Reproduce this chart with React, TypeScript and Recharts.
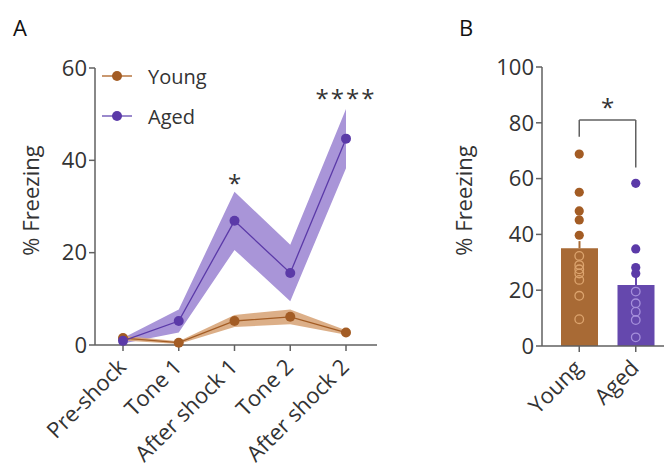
import React from 'react';
import {
  ComposedChart, Line, Area, XAxis, YAxis, Bar, Scatter, ErrorBar,
  ReferenceLine, ReferenceDot, Legend, Label,
} from 'recharts';

// ---------- Panel A data ----------
const phases = ['Pre-shock', 'Tone 1', 'After shock 1', 'Tone 2', 'After shock 2'];
const youngMean = [1.5, 0.5, 5.2, 6.1, 2.7];
const youngSem = [0.5, 0.3, 1.3, 1.6, 0.5];
const agedMean = [0.9, 5.2, 26.9, 15.6, 44.7];
const agedSem = [0.6, 2.5, 6.3, 6.1, 6.4];
const yTicksA = [0, 20, 40, 60];
const sigA = [
  { phase: 'After shock 1', y: 36, text: '*' },
  { phase: 'After shock 2', y: 54.3, text: '****' },
];

// ---------- Panel B data ----------
const groups = ['Young', 'Aged'];
const barMeans = [35.0, 21.9];
const barSems = [2.6, 3.3];
const youngPoints = [68.8, 55.1, 48.4, 45.2, 39.7, 32.3, 29.0, 27.5, 26.0, 23.7, 18.0, 9.6];
const agedPoints = [58.3, 34.8, 28.1, 26.0, 19.5, 15.3, 12.3, 9.3, 3.1];
const yTicksB = [0, 20, 40, 60, 80, 100];
const bracket = { top: 81, leftEnd: 75, rightEnd: 64, text: '*' };

// ---------- styles ----------
const FONT = '"Open Sans", sans-serif';
const TEXT = '#333333';
const AXIS = '#616161';
const YOUNG = '#a35c24';
const YOUNG_BAND = '#d8a67b';
const YOUNG_LEG = '#c99870';
const AGED = '#5b3aa8';
const AGED_BAND = '#a995d8';
const AGED_LEG = '#9a89cc';
const YOUNG_BAR = '#a86a35';
const AGED_BAR = '#6548ad';
const YOUNG_RING = '#dca46e';
const AGED_RING = '#a58fdb';

const dataA = phases.map((p, i) => ({
  phase: p,
  young: youngMean[i],
  aged: agedMean[i],
  youngBand: [youngMean[i] - youngSem[i], youngMean[i] + youngSem[i]],
  agedBand: [agedMean[i] - agedSem[i], agedMean[i] + agedSem[i]],
}));

const dataB = groups.map((g, i) => ({
  group: g,
  youngBar: i === 0 ? barMeans[i] : null,
  agedBar: i === 1 ? barMeans[i] : null,
  youngErr: i === 0 ? [0, barSems[i]] : null,
  agedErr: i === 1 ? [0, barSems[i]] : null,
}));
const youngPts = youngPoints.map((v) => ({ group: 'Young', v }));
const agedPts = agedPoints.map((v) => ({ group: 'Aged', v }));

const legendItems = [
  { name: 'Young', color: YOUNG, line: YOUNG_LEG },
  { name: 'Aged', color: AGED, line: AGED_LEG },
];

const RotTick = (props: any) => {
  const { x, y, payload } = props;
  return (
    <g transform={`translate(${x - 1},${y + 10})`}>
      <text
        x={0}
        y={0}
        dy="0.35em"
        textAnchor="end"
        transform="rotate(-45)"
        fill={TEXT}
        fontSize={22}
        fontFamily={FONT}
      >
        {payload.value}
      </text>
    </g>
  );
};

const LegendA = () => (
  <div style={{ fontFamily: FONT, fontSize: 20, color: TEXT }}>
    {legendItems.map((s) => (
      <div key={s.name} style={{ display: 'flex', alignItems: 'center', height: 40 }}>
        <svg width={46} height={14} style={{ display: 'block' }}>
          <line x1={0} y1={7} x2={30} y2={7} stroke={s.line} strokeWidth={2} />
          <circle cx={15} cy={7} r={5} fill={s.color} />
        </svg>
        <span>{s.name}</span>
      </div>
    ))}
  </div>
);

const YLabel = (dx: number) => (props: any) => {
  const { viewBox } = props;
  const cx = viewBox.x + dx;
  const cy = viewBox.y + viewBox.height / 2 - 6;
  return (
    <text
      x={cx}
      y={cy}
      transform={`rotate(-90, ${cx}, ${cy})`}
      textAnchor="middle"
      dominantBaseline="central"
      fill={TEXT}
      fontSize={22}
      fontFamily={FONT}
    >
      % Freezing
    </text>
  );
};

const StarLabel = (text: string, dy: number) => (props: any) => {
  const { viewBox } = props;
  const x = viewBox.x + (viewBox.width || 0) / 2;
  const y = viewBox.y + (viewBox.height || 0) / 2;
  return (
    <text
      x={x}
      y={y + dy}
      textAnchor="middle"
      fill={TEXT}
      fontSize={24}
      fontFamily={FONT}
      letterSpacing={text.length > 1 ? 2 : 0}
    >
      {text}
    </text>
  );
};

const PointShape = (mean: number, color: string, ring: string) => (props: any) => {
  const { cx, cy, payload } = props;
  if (cx == null || cy == null) return null;
  const filled = payload.v > mean;
  return filled ? (
    <circle cx={cx} cy={cy} r={4.6} fill={color} />
  ) : (
    <circle cx={cx} cy={cy} r={4.3} fill="none" stroke={ring} strokeWidth={1.3} />
  );
};

const tickStyle = { fill: TEXT, fontSize: 22, fontFamily: FONT };

export default function App() {
  return (
    <div style={{ position: 'absolute', left: 0, top: 0, width: 664, height: 468, background: '#fff', overflow: 'hidden' }}>
      <div style={{ position: 'absolute', left: 13, top: 12, fontFamily: FONT, fontSize: 22, color: '#111' }}>A</div>
      <div style={{ position: 'absolute', left: 459, top: 12, fontFamily: FONT, fontSize: 22, color: '#111' }}>B</div>

      <div style={{ position: 'absolute', left: 0, top: 0 }}>
        <ComposedChart
          width={400}
          height={468}
          data={dataA}
          margin={{ top: 68, right: 23, bottom: 0, left: 0 }}
        >
          <XAxis
            dataKey="phase"
            interval={0}
            padding={{ left: 28, right: 31 }}
            tick={<RotTick />}
            tickSize={6}
            axisLine={{ stroke: AXIS, strokeWidth: 1.5 }}
            tickLine={{ stroke: AXIS, strokeWidth: 1.5 }}
            height={123}
          />
          <YAxis
            domain={[0, 60]}
            ticks={yTicksA}
            width={95}
            tickSize={6}
            tick={tickStyle}
            axisLine={{ stroke: AXIS, strokeWidth: 1.5 }}
            tickLine={{ stroke: AXIS, strokeWidth: 1.5 }}
          >
            <Label content={YLabel(30)} />
          </YAxis>
          <Area
            dataKey="agedBand"
            stroke="none"
            fill={AGED_BAND}
            fillOpacity={1}
            isAnimationActive={false}
            legendType="none"
          />
          <Area
            dataKey="youngBand"
            stroke="none"
            fill={YOUNG_BAND}
            fillOpacity={0.9}
            isAnimationActive={false}
            legendType="none"
          />
          <Line
            dataKey="young"
            stroke={YOUNG}
            strokeWidth={1.3}
            dot={{ r: 5, fill: YOUNG, stroke: 'none' }}
            activeDot={false}
            isAnimationActive={false}
          />
          <Line
            dataKey="aged"
            stroke={AGED}
            strokeWidth={1.3}
            dot={{ r: 5, fill: AGED, stroke: 'none' }}
            activeDot={false}
            isAnimationActive={false}
          />
          {sigA.map((s) => (
            <ReferenceDot
              key={s.phase}
              x={s.phase}
              y={s.y}
              r={0}
              fill="none"
              stroke="none"
              label={StarLabel(s.text, 13)}
            />
          ))}
          <Legend
            layout="vertical"
            align="center"
            verticalAlign="middle"
            content={<LegendA />}
            wrapperStyle={{ position: 'absolute', left: 102, top: 56, width: 'auto', height: 'auto' }}
          />
        </ComposedChart>
      </div>

      <div style={{ position: 'absolute', left: 420, top: 0 }}>
        <ComposedChart
          width={244}
          height={468}
          data={dataB}
          margin={{ top: 67, right: 0, bottom: 0, left: 0 }}
        >
          <XAxis
            dataKey="group"
            allowDuplicatedCategory={false}
            interval={0}
            padding={{ left: 9, right: 0 }}
            tick={<RotTick />}
            tickSize={6}
            axisLine={{ stroke: AXIS, strokeWidth: 1.5 }}
            tickLine={{ stroke: AXIS, strokeWidth: 1.5 }}
            height={122}
          />
          <YAxis
            domain={[0, 100]}
            ticks={yTicksB}
            width={122}
            tickSize={6}
            tick={tickStyle}
            axisLine={{ stroke: AXIS, strokeWidth: 1.5 }}
            tickLine={{ stroke: AXIS, strokeWidth: 1.5 }}
          >
            <Label content={YLabel(43)} />
          </YAxis>
          <Bar dataKey="youngBar" stackId="s" fill={YOUNG_BAR} barSize={37} isAnimationActive={false}>
            <ErrorBar dataKey="youngErr" width={0} stroke={YOUNG_BAR} strokeWidth={2} direction="y" />
          </Bar>
          <Bar dataKey="agedBar" stackId="s" fill={AGED_BAR} barSize={37} isAnimationActive={false}>
            <ErrorBar dataKey="agedErr" width={0} stroke={AGED_BAR} strokeWidth={2} direction="y" />
          </Bar>
          <Scatter
            data={youngPts}
            dataKey="v"
            shape={PointShape(barMeans[0], YOUNG, YOUNG_RING)}
            isAnimationActive={false}
          />
          <Scatter
            data={agedPts}
            dataKey="v"
            shape={PointShape(barMeans[1], AGED, AGED_RING)}
            isAnimationActive={false}
          />
          <ReferenceLine
            segment={[{ x: 'Young', y: bracket.top }, { x: 'Aged', y: bracket.top }]}
            stroke={AXIS}
            strokeWidth={1.5}
            label={StarLabel(bracket.text, -4)}
          />
          <ReferenceLine
            segment={[{ x: 'Young', y: bracket.top }, { x: 'Young', y: bracket.leftEnd }]}
            stroke={AXIS}
            strokeWidth={1.5}
          />
          <ReferenceLine
            segment={[{ x: 'Aged', y: bracket.top }, { x: 'Aged', y: bracket.rightEnd }]}
            stroke={AXIS}
            strokeWidth={1.5}
          />
        </ComposedChart>
      </div>
    </div>
  );
}
